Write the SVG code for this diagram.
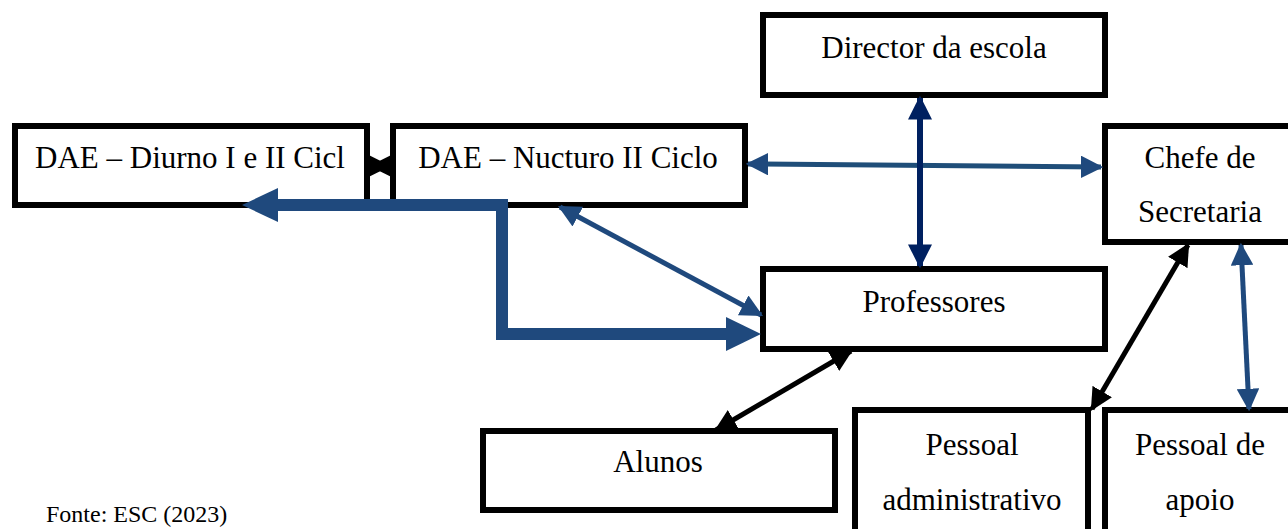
<svg xmlns="http://www.w3.org/2000/svg" width="1288" height="529" viewBox="0 0 1288 529">
<style>
.box{fill:#fff;stroke:#000;stroke-width:6}
.t{font-family:"Liberation Serif","Times New Roman",serif;font-size:31px;fill:#000;text-anchor:middle}
.src{font-family:"Liberation Serif","Times New Roman",serif;font-size:24px;fill:#000}
</style>
<defs>
<marker id="hb" viewBox="0 0 10 10" refX="9" refY="5" markerWidth="4.5" markerHeight="4.5" orient="auto-start-reverse" markerUnits="strokeWidth"><path d="M0,0 L10,5 L0,10 z" fill="#1F497D"/></marker>
<marker id="hn" viewBox="0 0 10 10" refX="9" refY="5" markerWidth="4" markerHeight="4" orient="auto-start-reverse" markerUnits="strokeWidth"><path d="M0,0 L10,5 L0,10 z" fill="#002060"/></marker>
<marker id="hk" viewBox="0 0 10 10" refX="9" refY="5" markerWidth="4.5" markerHeight="4.5" orient="auto-start-reverse" markerUnits="strokeWidth"><path d="M0,0 L10,5 L0,10 z" fill="#000"/></marker>
</defs>
<rect width="1288" height="529" fill="#fff"/>
<g id="director"><rect class="box" x="763" y="15" width="342" height="80"/><text class="t" x="934" y="58">Director da escola</text></g>
<g id="dae-diurno"><rect class="box" x="15" y="126" width="352" height="79"/><text class="t" x="190" y="168">DAE – Diurno I e II Cicl</text></g>
<g id="dae-nucturo"><rect class="box" x="393" y="126" width="352" height="79"/><text class="t" x="568" y="168">DAE – Nucturo II Ciclo</text></g>
<g id="chefe"><rect class="box" x="1105" y="126" width="190" height="116"/><text class="t" x="1200" y="168">Chefe de</text><text class="t" x="1200" y="222">Secretaria</text></g>
<g id="professores"><rect class="box" x="763" y="269" width="342" height="80"/><text class="t" x="934" y="312">Professores</text></g>
<g id="alunos"><rect class="box" x="483" y="431" width="352" height="79"/><text class="t" x="658" y="472">Alunos</text></g>
<g id="pessoal-admin"><rect class="box" x="855" y="410" width="233" height="130"/><text class="t" x="972" y="455">Pessoal</text><text class="t" x="972" y="510">administrativo</text></g>
<g id="pessoal-apoio"><rect class="box" x="1105" y="410" width="190" height="130"/><text class="t" x="1200" y="455">Pessoal de</text><text class="t" x="1200" y="510">apoio</text></g>
<g id="connectors">
<line x1="372" y1="166" x2="388" y2="166" stroke="#333" stroke-width="6" marker-start="url(#hk)" marker-end="url(#hk)"/>
<polyline points="732,334 502,334 502,205 275,205" fill="none" stroke="#1F497D" stroke-width="12"/>
<polygon points="242,205 278,188 278,222" fill="#1F497D"/>
<polygon points="761,334 726,317 726,351" fill="#1F497D"/>
<line x1="748" y1="164" x2="1101" y2="167" stroke="#1F4E79" stroke-width="5" marker-start="url(#hb)" marker-end="url(#hb)"/>
<line x1="920" y1="98" x2="920" y2="266" stroke="#002060" stroke-width="6" marker-start="url(#hn)" marker-end="url(#hn)"/>
<line x1="560" y1="207" x2="761" y2="315" stroke="#1F497D" stroke-width="5" marker-start="url(#hb)" marker-end="url(#hb)"/>
<line x1="851" y1="351" x2="716" y2="430" stroke="#000" stroke-width="5" marker-start="url(#hk)" marker-end="url(#hk)"/>
<line x1="1188" y1="245" x2="1092" y2="409" stroke="#000" stroke-width="5" marker-start="url(#hk)" marker-end="url(#hk)"/>
<line x1="1241" y1="245" x2="1249" y2="409" stroke="#1F497D" stroke-width="5" marker-start="url(#hb)" marker-end="url(#hb)"/>
</g>
<text class="src" x="46" y="522">Fonte: ESC (2023)</text>
</svg>
